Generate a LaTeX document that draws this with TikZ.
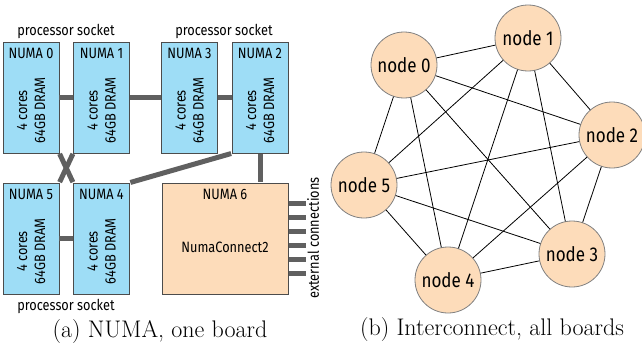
\documentclass[tikz,border=0pt]{standalone}
\usepackage{fontspec}
\newfontfamily\figsans[FakeStretch=0.85]{Fira Sans}
\begin{document}
\begin{tikzpicture}[x=1pt,y=-1pt,
  numa/.style={draw=black!70, line width=0.8pt, fill=numablue, minimum width=56pt, minimum height=111pt, inner sep=0pt},
  ncbox/.style={draw=black!70, line width=0.8pt, fill=peach, minimum width=126pt, minimum height=111pt, inner sep=0pt},
  lbl/.style={font=\figsans\fontsize{15}{18}\selectfont, inner sep=0pt},
  boxtext/.style={font=\figsans\fontsize{15}{18}\selectfont, inner sep=0pt, rotate=90, align=center},
  link/.style={draw=linkgray, line width=5pt},
  gnode/.style={circle, draw=black!50, line width=0.8pt, fill=peach, minimum size=66pt, inner sep=0pt, font=\figsans\fontsize{20}{24}\selectfont},
  gedge/.style={draw=black, line width=0.8pt},
  captext/.style={font=\fontsize{24}{28}\selectfont, inner sep=0pt}]
\definecolor{numablue}{RGB}{158,221,246}
\definecolor{peach}{RGB}{253,220,186}
\definecolor{linkgray}{RGB}{96,96,96}
\useasboundingbox (0,0) rectangle (642,345);

% ---- left panel: one board ----
\foreach \n/\x/\y in {0/31/97.5, 1/101.5/97.5, 3/189.5/97.5, 2/260/97.5, 5/31/238.5, 4/101.5/238.5}{
  \node[numa] (N\n) at (\x,\y) {};
}
\node[ncbox] (N6) at (225,238.5) {};

\foreach \n in {0,1,3,2,5,4}{
  \node[lbl] (N\n t) at ([yshift=-12pt]N\n.north) {NUMA \n};
  \node[boxtext] (N\n c) at ([yshift=-13pt]N\n.center) {4 cores\\64GB DRAM};
}
\node[lbl] (N6t) at ([yshift=-12pt]N6.north) {NUMA 6};
\node[lbl] (N6c) at ([yshift=-9pt]N6.center) {NumaConnect2};

\draw[link] (N0) -- (N1);
\draw[link] (N1) -- (N3);
\draw[link] (N3) -- (N2);
\draw[link] (N5) -- (N4);
\draw[link, shorten <=0.5pt, shorten >=0.5pt] (N0.south east) -- (N4.north west);
\draw[link, shorten <=0.5pt, shorten >=0.5pt] (N1.south west) -- (N5.north east);
\draw[link, shorten <=0.5pt, shorten >=0.5pt] (N4.north east) -- (N2.south west);
\draw[link, shorten <=0.4pt, shorten >=0.4pt] (N2.south) -- (N2.south |- N6.north);

\foreach \i/\dy in {1/-35,2/-21,3/-7,4/7,5/21,6/35}{
  \coordinate (E\i) at ([xshift=18pt, yshift=-\dy pt]N6.east);
  \draw[link, shorten <=0.4pt] ([yshift=-\dy pt]N6.east) -- (E\i);
}
\node[lbl, rotate=90] (ext) at (313,238) {external connections};

\node[lbl] (ps1) at (66,31) {processor socket};
\node[lbl] (ps2) at (224,31) {processor socket};
\node[lbl] (ps3) at (66,306) {processor socket};

\node[captext] (capa) at (160,332) {(a) NUMA, one board};

% ---- right panel: interconnect ----
\node[gnode] (g0) at (404,65) {node 0};
\node[gnode] (g1) at (528,38) {node 1};
\node[gnode] (g2) at (612,135) {node 2};
\node[gnode] (g3) at (572,254) {node 3};
\node[gnode] (g4) at (448,280) {node 4};
\node[gnode] (g5) at (364,185) {node 5};
\foreach \a/\b in {0/1,0/2,0/3,0/4,0/5,1/2,1/3,1/4,1/5,2/3,2/4,2/5,3/4,3/5,4/5}{
  \draw[gedge] (g\a) -- (g\b);
}
\node[captext] (capb) at (492,330) {(b) Interconnect, all boards};
\end{tikzpicture}
\end{document}
